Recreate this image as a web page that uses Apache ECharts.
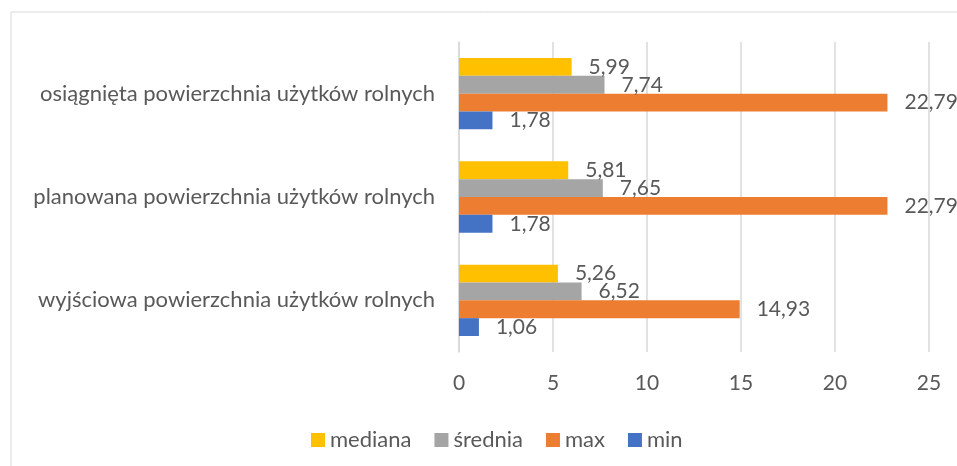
<!DOCTYPE html>
<html>
<head>
<meta charset="utf-8">
<script src="https://cdn.jsdelivr.net/npm/echarts@6/dist/echarts.min.js"></script>
<style>
html,body{margin:0;padding:0;background:#fff;}
#chart{width:957px;height:466px;}
</style>
</head>
<body>
<div id="chart"></div>
<script>
const categories = ['wyjściowa powierzchnia użytków rolnych', 'planowana powierzchnia użytków rolnych', 'osiągnięta powierzchnia użytków rolnych'];
const minValues = [1.06, 1.78, 1.78];
const maxValues = [14.93, 22.79, 22.79];
const sredniaValues = [6.52, 7.65, 7.74];
const medianaValues = [5.26, 5.81, 5.99];
const legendNames = ['mediana', 'średnia', 'max', 'min'];
const xTicks = [0, 5, 10, 15, 20, 25];

const FONT = 'Lato';
const TXT = '#595959';
const fmt = p => p.value.toFixed(2).replace('.', ',');

function mk(name, data, color) {
  return {
    name, type: 'bar', data,
    barGap: '0%', barCategoryGap: '31%',
    itemStyle: { color },
    label: { show: true, position: 'right', distance: 17, formatter: fmt, color: TXT, fontFamily: FONT, fontSize: 21 }
  };
}

const chart = echarts.init(document.getElementById('chart'), null, { renderer: 'canvas' });
chart.setOption({
  animation: false,
  backgroundColor: '#fff',
  graphic: [{
    type: 'rect', shape: { x: 11, y: 12, width: 980, height: 500 },
    style: { fill: 'none', stroke: '#d9d9d9', lineWidth: 1 }, silent: true, z: -1
  }],
  grid: { left: 459, right: 28, top: 42, bottom: 114, containLabel: false },
  legend: {
    data: legendNames, left: 306, top: 424,
    itemWidth: 14, itemHeight: 14, itemGap: 23, icon: 'rect',
    textStyle: { color: TXT, fontFamily: FONT, fontSize: 22 }
  },
  xAxis: {
    type: 'value', min: xTicks[0], max: xTicks[xTicks.length - 1], interval: 5,
    axisLine: { show: false }, axisTick: { show: false },
    splitLine: { lineStyle: { color: '#d9d9d9', width: 1.5 } },
    axisLabel: { color: TXT, fontFamily: FONT, fontSize: 21, margin: 21 }
  },
  yAxis: {
    type: 'category', data: categories,
    axisLine: { lineStyle: { color: '#d9d9d9', width: 1.5 } }, axisTick: { show: false },
    axisLabel: { color: TXT, fontFamily: FONT, fontSize: 22, margin: 24 }
  },
  series: [
    mk('mediana', medianaValues, '#FFC000'),
    mk('średnia', sredniaValues, '#A5A5A5'),
    mk('max', maxValues, '#ED7D31'),
    mk('min', minValues, '#4472C4')
  ]
});
</script>
</body>
</html>
